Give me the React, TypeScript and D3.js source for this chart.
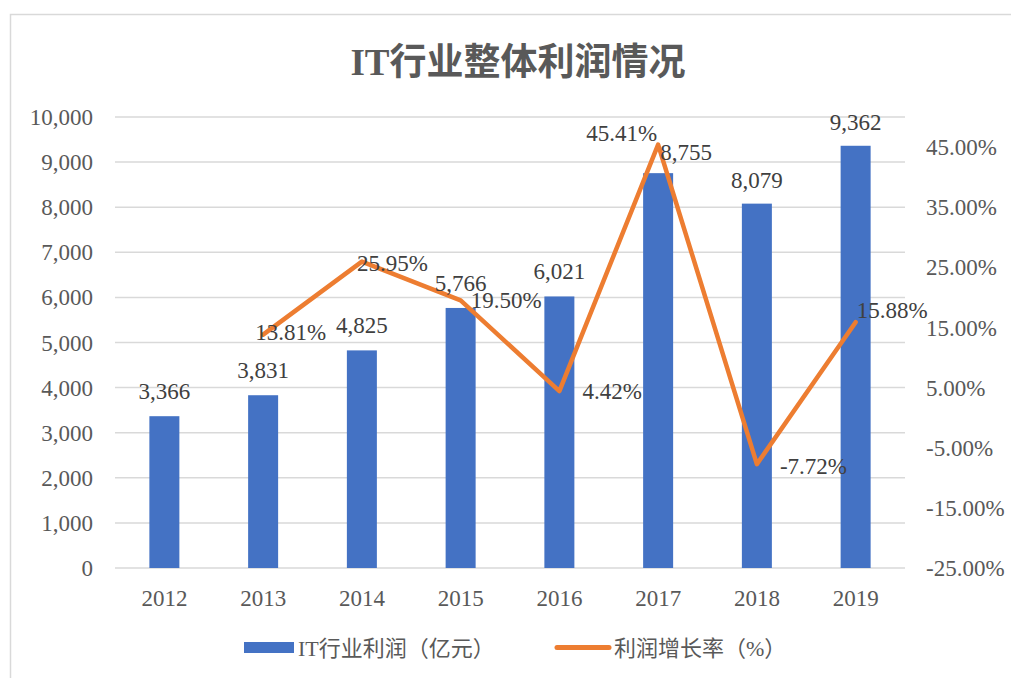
import React from "react";
import * as d3 from "d3";

const years = ["2012", "2013", "2014", "2015", "2016", "2017", "2018", "2019"];
const profits = [3366, 3831, 4825, 5766, 6021, 8755, 8079, 9362];
const growth: (number | null)[] = [null, 13.81, 25.95, 19.5, 4.42, 45.41, -7.72, 15.88];
const leftTicks = [0, 1000, 2000, 3000, 4000, 5000, 6000, 7000, 8000, 9000, 10000];
const rightTicks = [-25, -15, -5, 5, 15, 25, 35, 45];

const title = "IT行业整体利润情况";
const barName = "IT行业利润（亿元）";
const lineName = "利润增长率（%）";

// label placement offsets (layout, not data)
const growthLabelPos: { dx: number; dy: number; anchor: string }[] = [
  { dx: 0, dy: 0, anchor: "start" },
  { dx: -8, dy: 5, anchor: "start" },
  { dx: -5, dy: 9, anchor: "start" },
  { dx: 10, dy: 8, anchor: "start" },
  { dx: 23, dy: 8, anchor: "start" },
  { dx: -1, dy: -4, anchor: "end" },
  { dx: 23, dy: 10, anchor: "start" },
  { dx: 1, dy: -4, anchor: "start" },
];
const barLabelPos: { dx: number; dy: number }[] = [
  { dx: 0, dy: -17 },
  { dx: 0, dy: -17 },
  { dx: 0, dy: -17 },
  { dx: 0, dy: -17 },
  { dx: 0, dy: -17 },
  { dx: 28, dy: -13 },
  { dx: 0, dy: -16 },
  { dx: 0, dy: -16 },
];

const FONT = "'Liberation Serif', 'Times New Roman', 'Noto Sans CJK SC', serif";

export default function App() {
  const W = 1011;
  const H = 678;
  const left = 115;
  const right = 905;
  const top = 117;
  const bottom = 568;

  const x = d3.scaleBand<string>().domain(years).range([left, right]).padding(0);
  const yL = d3.scaleLinear().domain([0, 10000]).range([bottom, top]);
  const yR = d3.scaleLinear().domain([-25, 50]).range([bottom, top]);
  const barW = 30;
  const cx = (y: string) => (x(y) as number) + x.bandwidth() / 2;

  const pts = years
    .map((yr, i) => ({ yr, v: growth[i], i }))
    .filter((d) => d.v !== null) as { yr: string; v: number; i: number }[];

  const line = d3
    .line<{ yr: string; v: number }>()
    .x((d) => cx(d.yr))
    .y((d) => yR(d.v));

  const fmtInt = d3.format(",");
  const fmtPct = (v: number) => v.toFixed(2) + "%";

  return (
    <svg
      width={W}
      height={H}
      style={{ position: "absolute", left: 0, top: 0, background: "#fff" }}
      fontFamily={FONT}
    >
      <rect x={10.5} y={14.5} width={1100} height={700} fill="#fff" stroke="#d9d9d9" strokeWidth={1.5} />
      <text
        x={518}
        y={75}
        textAnchor="middle"
        fontSize={37}
        fontWeight="bold"
        fill="#595959"
        fontFamily="'Liberation Serif', 'Noto Sans CJK SC', serif"
      >
        {title}
      </text>

      {leftTicks.map((t) => (
        <line key={"g" + t} x1={left} x2={right} y1={yL(t)} y2={yL(t)} stroke="#d9d9d9" strokeWidth={1.5} />
      ))}

      {leftTicks.map((t) => (
        <text key={"l" + t} x={93} y={yL(t)} dy="0.35em" textAnchor="end" fontSize={23} fill="#595959">
          {fmtInt(t)}
        </text>
      ))}
      {rightTicks.map((t) => (
        <text key={"r" + t} x={926} y={yR(t)} dy="0.35em" textAnchor="start" fontSize={23} fill="#595959">
          {t.toFixed(2) + "%"}
        </text>
      ))}

      {years.map((yr, i) => (
        <rect
          key={"b" + yr}
          x={cx(yr) - barW / 2}
          y={yL(profits[i])}
          width={barW}
          height={yL(0) - yL(profits[i])}
          fill="#4472C4"
        />
      ))}

      {years.map((yr) => (
        <text key={"x" + yr} x={cx(yr)} y={606} textAnchor="middle" fontSize={23} fill="#595959">
          {yr}
        </text>
      ))}

      <path d={line(pts) || ""} fill="none" stroke="#ED7D31" strokeWidth={4.5} strokeLinejoin="round" strokeLinecap="round" />

      {years.map((yr, i) => (
        <text
          key={"bl" + yr}
          x={cx(yr) + barLabelPos[i].dx}
          y={yL(profits[i]) + barLabelPos[i].dy}
          textAnchor="middle"
          fontSize={23}
          fill="#404040"
        >
          {fmtInt(profits[i])}
        </text>
      ))}

      {pts.map((d) => (
        <text
          key={"pl" + d.yr}
          x={cx(d.yr) + growthLabelPos[d.i].dx}
          y={yR(d.v) + growthLabelPos[d.i].dy}
          textAnchor={growthLabelPos[d.i].anchor}
          fontSize={23}
          fill="#404040"
        >
          {fmtPct(d.v)}
        </text>
      ))}

      {/* legend */}
      <rect x={244} y={642} width={50} height={11} fill="#4472C4" />
      <text x={298} y={648} dy="0.35em" fontSize={22} fill="#595959">
        {barName}
      </text>
      <line x1={557} x2={609} y1={647.5} y2={647.5} stroke="#ED7D31" strokeWidth={5} strokeLinecap="round" />
      <text x={614} y={648} dy="0.35em" fontSize={22} fill="#595959">
        {lineName}
      </text>
    </svg>
  );
}
